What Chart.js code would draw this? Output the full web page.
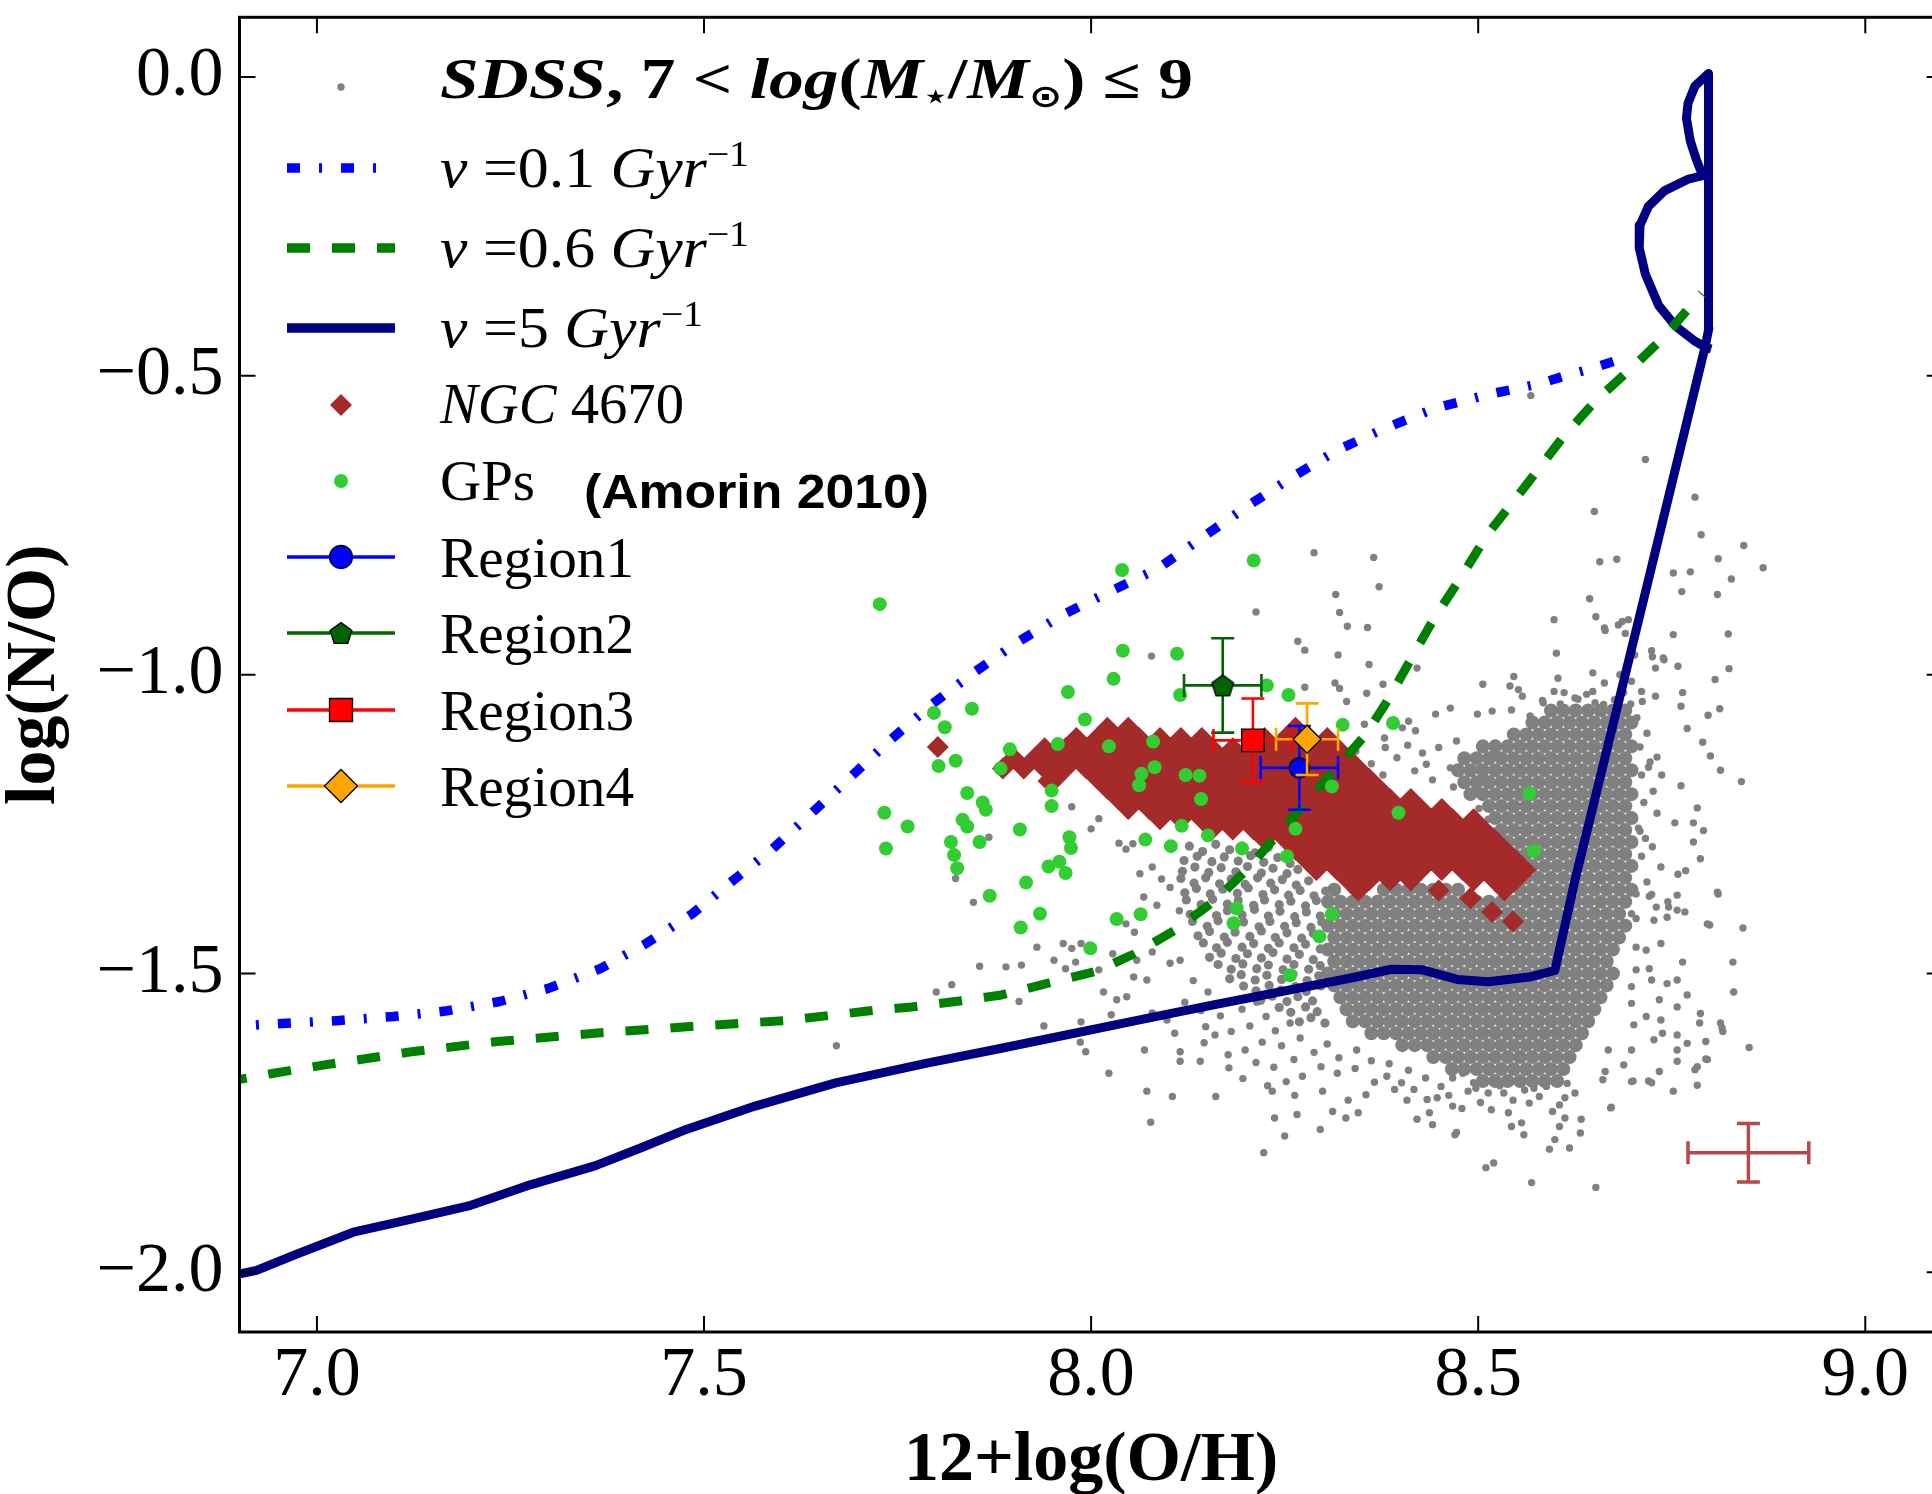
<!DOCTYPE html>
<html>
<head>
<meta charset="utf-8">
<script src="https://cdn.jsdelivr.net/npm/chart.js@4/dist/chart.umd.min.js"></script>
<style>
  html, body { margin: 0; padding: 0; background: #fff; overflow: hidden; }
  #c { display: block; }
</style>
</head>
<body>
<canvas id="c" width="1960" height="1494"></canvas>
<script>
// ---------------------------------------------------------------
// Axis ticks
const xTicks = [7.0, 7.5, 8.0, 8.5, 9.0];
const yTicks = [-2.0, -1.5, -1.0, -0.5, 0.0];

// Chemical evolution models: [12+log(O/H), log(N/O)]
const modelNu = ['0.1', '0.6', '5'];
const nu01 = [[6.880,-1.590],[6.925,-1.586],[7.025,-1.579],[7.099,-1.572],[7.166,-1.563],[7.236,-1.547],[7.299,-1.525],[7.366,-1.492],[7.425,-1.450],[7.485,-1.400],[7.535,-1.347],[7.589,-1.291],[7.642,-1.228],[7.692,-1.168],[7.741,-1.109],[7.795,-1.049],[7.848,-0.997],[7.906,-0.945],[7.963,-0.900],[8.029,-0.858],[8.087,-0.822],[8.144,-0.770],[8.202,-0.718],[8.259,-0.670],[8.317,-0.625],[8.379,-0.588],[8.445,-0.554],[8.510,-0.532],[8.580,-0.513],[8.612,-0.500],[8.643,-0.489],[8.679,-0.474]];
const nu06 = [[6.880,-1.682],[6.944,-1.667],[7.010,-1.653],[7.122,-1.631],[7.233,-1.614],[7.359,-1.600],[7.492,-1.588],[7.603,-1.579],[7.711,-1.563],[7.768,-1.556],[7.830,-1.546],[7.884,-1.536],[7.936,-1.519],[8.005,-1.497],[8.056,-1.467],[8.108,-1.428],[8.160,-1.378],[8.200,-1.328],[8.355,-1.100],[8.385,-1.039],[8.414,-0.972],[8.443,-0.906],[8.477,-0.839],[8.511,-0.767],[8.578,-0.656],[8.608,-0.605],[8.652,-0.541],[8.698,-0.487],[8.737,-0.439],[8.780,-0.375],[8.789,-0.362]];
const nu5 = [[6.880,-2.012],[6.899,-2.003],[6.922,-1.997],[6.973,-1.970],[7.047,-1.933],[7.122,-1.911],[7.196,-1.889],[7.270,-1.856],[7.359,-1.822],[7.418,-1.792],[7.477,-1.761],[7.566,-1.722],[7.670,-1.683],[7.788,-1.650],[7.881,-1.626],[8.061,-1.578],[8.145,-1.556],[8.342,-1.506],[8.388,-1.493],[8.428,-1.494],[8.473,-1.510],[8.513,-1.514],[8.566,-1.506],[8.599,-1.495],[8.625,-1.344],[8.713,-0.878],[8.793,-0.452],[8.798,-0.420],[8.798,0.004],[8.797,0.006],[8.780,-0.015],[8.771,-0.044],[8.769,-0.069],[8.774,-0.107],[8.782,-0.139],[8.790,-0.165],[8.771,-0.171],[8.741,-0.190],[8.720,-0.216],[8.709,-0.248],[8.708,-0.286],[8.716,-0.330],[8.733,-0.382],[8.755,-0.417],[8.780,-0.442],[8.793,-0.452],[8.801,-0.455]];

// Green Peas (Amorin 2010)
const gpPoints = [[7.727,-0.882],[8.040,-0.825],[8.210,-0.809],[8.041,-0.960],[8.111,-0.965],[8.029,-1.007],[7.970,-1.029],[8.115,-1.034],[8.227,-1.018],[8.255,-1.034],[7.846,-1.057],[7.797,-1.064],[7.811,-1.088],[7.992,-1.075],[8.325,-1.084],[8.390,-1.081],[7.895,-1.125],[7.957,-1.116],[8.023,-1.120],[8.080,-1.112],[7.825,-1.144],[7.803,-1.153],[7.883,-1.157],[8.082,-1.155],[8.065,-1.166],[8.122,-1.168],[8.140,-1.169],[8.062,-1.185],[7.949,-1.194],[7.840,-1.198],[7.860,-1.214],[7.864,-1.226],[7.949,-1.220],[8.142,-1.208],[8.311,-1.187],[8.397,-1.231],[8.566,-1.199],[7.733,-1.231],[7.763,-1.254],[7.834,-1.243],[7.840,-1.254],[7.908,-1.259],[7.972,-1.272],[7.819,-1.280],[7.856,-1.280],[7.974,-1.290],[8.070,-1.276],[8.103,-1.287],[8.151,-1.269],[8.264,-1.258],[8.572,-1.295],[7.735,-1.291],[7.823,-1.302],[7.827,-1.324],[7.945,-1.321],[7.959,-1.313],[7.967,-1.332],[7.916,-1.348],[8.195,-1.291],[8.253,-1.304],[7.869,-1.370],[7.934,-1.400],[8.033,-1.409],[8.064,-1.401],[7.909,-1.423],[8.188,-1.391],[8.184,-1.416],[8.311,-1.401],[8.295,-1.438],[7.999,-1.458],[8.257,-1.503],[8.117,-1.253]];

// NGC 4670 spaxels, one row per log(N/O): [log(N/O), [12+log(O/H), ...]]
const ngcRows = [
  [-1.089, [8.021,8.048,8.264]],
  [-1.106, [7.981,8.008,8.035,8.062,8.089,8.116,8.143,8.224,8.251,8.278,8.305]],
  [-1.123, [7.940,7.967,7.994,8.021,8.048,8.075,8.102,8.129,8.156,8.183,8.210,8.237,8.264,8.291,8.318]],
  [-1.140, [7.900,7.927,7.954,7.981,8.008,8.035,8.062,8.089,8.116,8.143,8.170,8.197,8.224,8.251,8.278,8.305,8.332]],
  [-1.157, [7.886,7.913,7.940,7.967,7.994,8.021,8.048,8.075,8.102,8.129,8.156,8.183,8.210,8.237,8.264,8.291,8.318,8.345]],
  [-1.174, [7.954,8.008,8.035,8.062,8.089,8.116,8.143,8.170,8.197,8.224,8.251,8.278,8.305,8.332,8.359]],
  [-1.191, [8.021,8.048,8.075,8.102,8.129,8.156,8.183,8.210,8.237,8.264,8.291,8.318,8.345,8.372]],
  [-1.208, [8.035,8.062,8.089,8.116,8.143,8.170,8.197,8.224,8.251,8.278,8.305,8.332,8.359,8.386,8.413]],
  [-1.225, [8.048,8.075,8.102,8.129,8.156,8.183,8.210,8.237,8.264,8.291,8.318,8.345,8.372,8.399,8.426,8.453]],
  [-1.242, [8.089,8.116,8.143,8.170,8.197,8.224,8.251,8.278,8.305,8.332,8.359,8.386,8.413,8.440,8.467,8.494]],
  [-1.259, [8.156,8.183,8.210,8.237,8.264,8.291,8.318,8.345,8.372,8.399,8.426,8.453,8.480,8.507]],
  [-1.276, [8.224,8.251,8.278,8.305,8.332,8.359,8.386,8.413,8.440,8.467,8.494,8.521]],
  [-1.293, [8.264,8.291,8.318,8.345,8.372,8.399,8.426,8.453,8.480,8.507,8.534]],
  [-1.310, [8.278,8.305,8.332,8.359,8.386,8.413,8.440,8.467,8.494,8.521,8.548]],
  [-1.327, [8.291,8.318,8.345,8.372,8.399,8.426,8.453,8.480,8.507,8.534,8.561]],
  [-1.344, [8.332,8.359,8.386,8.413,8.494,8.521,8.548]],
  [-1.361, [8.345,8.449,8.534]],
  [-1.374, [8.490]],
  [-1.397, [8.518]],
  [-1.413, [8.545]],
  [-1.121, [7.802]],
  [-1.178, [7.945]]
];

// SDSS star-forming galaxies, 7 < log(M*/Msun) <= 9
const sdssPoints = [
  [8.568,-0.533],[8.716,-0.640],[8.780,-0.703],[8.650,-0.727],[8.788,-0.766],[8.843,-0.784],[8.288,-0.796],[8.365,-0.804],[8.679,-0.807],[8.810,-0.806],[8.657,-0.811],[8.868,-0.821],[8.752,-0.830],[8.774,-0.828],[8.827,-0.840],[8.372,-0.853],[8.763,-0.861],[8.316,-0.866],[8.809,-0.866],[8.644,-0.873],[8.213,-0.895],[8.321,-0.896],[8.598,-0.908],[8.652,-0.903],[8.686,-0.911],[8.331,-0.919],[8.357,-0.921],[8.663,-0.922],[8.690,-0.931],[8.752,-0.933],[8.823,-0.932],[8.267,-0.944],[8.276,-0.959],[8.601,-0.964],[8.078,-0.969],[8.319,-0.967],[8.702,-0.967],[8.725,-0.970],[8.740,-0.975],[8.359,-0.983],[8.758,-0.986],[8.421,-0.989],[8.729,-0.989],[8.824,-0.990],[8.648,-0.997],[8.683,-1.000],[8.546,-1.003],[8.603,-1.006],[8.806,-1.008],[8.698,-1.011],[8.315,-1.014],[8.663,-1.014],[8.506,-1.016],[8.377,-1.016],[8.541,-1.019],[8.276,-1.021],[8.321,-1.023],[8.552,-1.025],[8.598,-1.028],[8.648,-1.028],[8.711,-1.028],[8.764,-1.030],[8.356,-1.031],[8.729,-1.036],[8.557,-1.036],[8.625,-1.039],[8.584,-1.047],[8.330,-1.045],[8.662,-1.050],[8.762,-1.053],[8.812,-1.057],[8.464,-1.056],[8.543,-1.059],[8.518,-1.061],[8.620,-1.061],[8.445,-1.066],[8.499,-1.066],[8.567,-1.069],[8.797,-1.068],[8.353,-1.083],[8.410,-1.078],[8.770,-1.090],[8.402,-1.089],[8.419,-1.094],[8.379,-1.106],[8.472,-1.111],[8.790,-1.113],[8.449,-1.122],[8.380,-1.122],[8.342,-1.128],[8.495,-1.139],[8.800,-1.136],[8.433,-1.150],[8.464,-1.156],[8.500,-1.158],[8.813,-1.160],[8.840,-1.179],[8.762,-1.186],[8.783,-1.223],[8.754,-1.248],[8.778,-1.248],[8.791,-1.261],[8.778,-1.280],[8.787,-1.308],[8.768,-1.328],[8.809,-1.364],[8.758,-1.334],[8.767,-1.397],[8.745,-1.380],[8.799,-1.419],[8.842,-1.424],[8.829,-1.481],[8.830,-1.531],[8.787,-1.567],[8.815,-1.591],[8.850,-1.624],[8.794,-1.614],[8.794,-1.643],[8.780,-1.661],[8.783,-1.687],[8.752,-1.697],[8.720,-1.680],[8.700,-1.680],[8.672,-1.724],
  [8.712,-1.045],[8.705,-1.072],[8.718,-1.098],[8.709,-1.121],[8.722,-1.146],[8.731,-1.138],[8.711,-1.168],[8.737,-1.168],[8.726,-1.195],[8.714,-1.214],[8.731,-1.232],[8.709,-1.262],[8.716,-1.274],[8.725,-1.288],[8.711,-1.304],[8.736,-1.322],[8.718,-1.347],[8.724,-1.368],[8.746,-1.389],[8.704,-1.408],[8.727,-1.411],[8.736,-1.450],[8.704,-1.456],[8.717,-1.461],[8.704,-1.494],[8.721,-1.492],[8.698,-1.522],[8.724,-1.511],[8.744,-1.517],[8.698,-1.550],[8.734,-1.544],[8.757,-1.556],[8.770,-1.536],[8.717,-1.572],[8.736,-1.578],[8.701,-1.586],[8.738,-1.600],[8.757,-1.603],[8.770,-1.617],[8.727,-1.611],[8.698,-1.628],[8.668,-1.628],[8.688,-1.653],[8.757,-1.628],[8.757,-1.647],[8.734,-1.664],[8.783,-1.656],[8.796,-1.644],[8.661,-1.678],[8.664,-1.664],[8.698,-1.681],[8.724,-1.683],[8.813,-1.583],[8.816,-1.597],[8.786,-1.583],[8.757,-1.511],[8.764,-1.481],[8.796,-1.417],[8.810,-1.367],[8.757,-1.369],[8.757,-1.394],[8.730,-1.389],[8.744,-1.406],[8.704,-1.367],[8.721,-1.371],[8.698,-1.400],[8.707,-1.257],[8.720,-1.155],[8.681,-0.917],[8.694,-0.908],[8.664,-0.926],[8.739,-0.972],[8.724,-0.960],
  [8.395,-1.139],[8.418,-1.161],[8.441,-1.176],[8.468,-1.188],[8.487,-1.201],[8.409,-1.118],[8.428,-1.131],[8.362,-1.149],[8.377,-1.168],
  [8.583,-1.043],[8.606,-1.049],[8.629,-1.041],[8.651,-1.047],[8.676,-1.042],[8.697,-1.049],[8.611,-1.030],[8.640,-1.033],[8.688,-1.030],
  [8.522,-1.128],[8.512,-1.145],[8.504,-1.171],[8.497,-1.189],[8.501,-1.224],[8.513,-1.242],[8.520,-1.262],[8.531,-1.281],
  [8.452,-1.689],[8.487,-1.697],[8.528,-1.688],[8.560,-1.695],[8.588,-1.689],[8.615,-1.684],[8.545,-1.712],[8.503,-1.716],[8.462,-1.704],
  [7.975,-1.221],[8.000,-1.258],[8.010,-1.241],[8.036,-1.282],[8.045,-1.292],[8.054,-1.283],[8.063,-1.333],[8.079,-1.322],[8.091,-1.342],[8.102,-1.356],[8.068,-1.372],[8.085,-1.386],[8.114,-1.395],[8.045,-1.417],[8.056,-1.431],[8.028,-1.467],[8.010,-1.494],[7.964,-1.450],[7.975,-1.458],[7.952,-1.478],[7.930,-1.456],[7.910,-1.486],[7.890,-1.489],[7.820,-1.519],[7.800,-1.531],[7.907,-1.547],[8.016,-1.531],[8.033,-1.544],[7.856,-1.488],[7.967,-1.492],[7.996,-1.499],[7.671,-1.621],[7.939,-1.588],[7.986,-1.615],[8.077,-1.749],[8.223,-1.800],[7.987,-1.450],[7.980,-1.481],[8.046,-1.539],[8.026,-1.569],[7.987,-1.581],[7.993,-1.631],[8.023,-1.667],[8.059,-1.478],[8.079,-1.464],[8.102,-1.483],[8.115,-1.478],[8.055,-1.506],[8.072,-1.511],[8.079,-1.566],[8.098,-1.578],[8.108,-1.600],[8.069,-1.628],[8.115,-1.631],[8.115,-1.647],[8.141,-1.647],[8.072,-1.697],[8.105,-1.706],[8.161,-1.706],[8.148,-1.589],[8.146,-1.616],[8.178,-1.658],[7.868,-1.272],[7.825,-1.341],[7.848,-1.381],
  [8.132,-1.512],[8.151,-1.531],[8.121,-1.548],[8.142,-1.562],[8.167,-1.571],[8.195,-1.560],[8.214,-1.548],[8.226,-1.572],[8.205,-1.588],[8.181,-1.597],[8.160,-1.603],[8.238,-1.596],[8.257,-1.583],[8.270,-1.608],[8.246,-1.621],[8.221,-1.615],[8.199,-1.628],[8.177,-1.636],[8.213,-1.649],[8.236,-1.657],[8.262,-1.644],[8.288,-1.632],[8.305,-1.618],[8.320,-1.641],[8.343,-1.628],[8.297,-1.656],[8.273,-1.672],[8.252,-1.681],[8.228,-1.688],[8.196,-1.676],[8.318,-1.667],[8.341,-1.659],[8.362,-1.646],[8.385,-1.651],[8.410,-1.662],[8.432,-1.675],[8.366,-1.682],[8.392,-1.694],[8.355,-1.703],[8.382,-1.672],[8.401,-1.683],[8.417,-1.694],[8.408,-1.712],[8.421,-1.744],[8.437,-1.733],[8.441,-1.753],[8.434,-1.711],[8.447,-1.708],[8.467,-1.675],[8.480,-1.667],[8.494,-1.683],[8.467,-1.722],[8.479,-1.726],[8.470,-1.770],[8.497,-1.692],[8.513,-1.700],[8.533,-1.700],[8.517,-1.728],[8.539,-1.733],[8.543,-1.756],[8.556,-1.750],[8.559,-1.770],[8.510,-1.825],[8.520,-1.817],[8.569,-1.850],[8.652,-1.858],[8.592,-1.794],[8.618,-1.792],[8.599,-1.778],[8.632,-1.767],[8.605,-1.756],[8.612,-1.742],[8.596,-1.731],[8.605,-1.720],[8.612,-1.708],[8.625,-1.700],[8.579,-1.706],[8.566,-1.717],[8.572,-1.692],[8.671,-1.725],[8.633,-1.744],[8.234,-1.697],[8.263,-1.704],[8.237,-1.742],[8.266,-1.736],[8.250,-1.772],[8.296,-1.761],[8.299,-1.697],[8.332,-1.712],[8.312,-1.731],[8.329,-1.742],[8.345,-1.733],[8.472,-1.766]
];

// SDSS galaxies in the busy strip between the NGC 4670 band and the core
const sdssBusy = [
  [8.127,-1.287],[8.144,-1.296],[8.161,-1.284],[8.179,-1.293],[8.195,-1.287],[8.212,-1.298],[8.229,-1.289],
  [8.120,-1.311],[8.137,-1.304],[8.156,-1.313],[8.172,-1.305],[8.190,-1.312],[8.206,-1.303],[8.223,-1.314],[8.241,-1.306],[8.257,-1.316],
  [8.118,-1.329],[8.134,-1.322],[8.152,-1.331],[8.168,-1.323],[8.187,-1.330],[8.202,-1.321],[8.220,-1.332],[8.235,-1.324],[8.253,-1.333],[8.267,-1.326],
  [8.116,-1.341],[8.133,-1.349],[8.148,-1.340],[8.166,-1.350],[8.181,-1.342],[8.199,-1.351],[8.215,-1.340],[8.232,-1.349],[8.247,-1.343],[8.265,-1.352],[8.281,-1.345],
  [8.121,-1.365],[8.136,-1.358],[8.154,-1.367],[8.170,-1.359],[8.189,-1.366],[8.203,-1.357],[8.222,-1.368],[8.237,-1.360],[8.255,-1.369],[8.270,-1.361],[8.288,-1.370],[8.303,-1.362],
  [8.123,-1.377],[8.142,-1.385],[8.157,-1.376],[8.176,-1.384],[8.190,-1.378],[8.210,-1.386],[8.224,-1.377],[8.243,-1.385],[8.258,-1.379],[8.277,-1.387],[8.291,-1.378],
  [8.128,-1.401],[8.143,-1.394],[8.162,-1.403],[8.176,-1.395],[8.195,-1.402],[8.211,-1.393],[8.229,-1.404],[8.244,-1.396],[8.263,-1.405],[8.278,-1.397],[8.296,-1.404],
  [8.131,-1.413],[8.150,-1.421],[8.164,-1.412],[8.183,-1.420],[8.197,-1.414],[8.217,-1.422],[8.231,-1.413],[8.250,-1.421],[8.265,-1.415],[8.284,-1.423],[8.298,-1.414],
  [8.138,-1.437],[8.153,-1.430],[8.172,-1.439],[8.186,-1.431],[8.205,-1.438],[8.220,-1.429],[8.238,-1.440],[8.253,-1.432],[8.272,-1.441],[8.287,-1.433],
  [8.145,-1.449],[8.162,-1.457],[8.176,-1.448],[8.195,-1.456],[8.210,-1.450],[8.229,-1.458],[8.243,-1.449],[8.262,-1.457],[8.277,-1.451],[8.296,-1.459],
  [8.153,-1.473],[8.168,-1.466],[8.187,-1.475],[8.202,-1.467],[8.220,-1.474],[8.235,-1.465],[8.253,-1.476],[8.269,-1.468],[8.287,-1.477],
  [8.164,-1.485],[8.181,-1.493],[8.196,-1.484],[8.214,-1.492],[8.229,-1.486],[8.248,-1.494],[8.262,-1.485],[8.281,-1.493],[8.296,-1.487],
  [8.179,-1.509],[8.194,-1.502],[8.212,-1.511],[8.227,-1.503],[8.246,-1.510],[8.261,-1.501],[8.279,-1.512],[8.294,-1.504],
  [8.197,-1.521],[8.213,-1.529],[8.230,-1.520],[8.245,-1.528],[8.264,-1.522],[8.278,-1.530],[8.297,-1.521],
  [8.219,-1.545],[8.234,-1.538],[8.253,-1.547],[8.267,-1.539],[8.286,-1.546],
  [8.243,-1.557],[8.258,-1.565],[8.277,-1.556],[8.292,-1.564],
  [8.269,-1.581],[8.284,-1.574],[8.302,-1.583]
];

// Crowded core of the SDSS distribution, one row per log(N/O)
const sdssDenseRows = [
  [-1.06, [8.594,8.610,8.626,8.642,8.658,8.674,8.690]],
  [-1.08, [8.570,8.586,8.602,8.618,8.634,8.650,8.666,8.682,8.698]],
  [-1.10, [8.546,8.562,8.578,8.594,8.610,8.626,8.642,8.658,8.674,8.690]],
  [-1.12, [8.506,8.522,8.538,8.554,8.570,8.586,8.602,8.618,8.634,8.650,8.666,8.682,8.698]],
  [-1.14, [8.482,8.498,8.514,8.530,8.546,8.562,8.578,8.594,8.610,8.626,8.642,8.658,8.674,8.690]],
  [-1.16, [8.474,8.490,8.506,8.522,8.538,8.554,8.570,8.586,8.602,8.618,8.634,8.650,8.666,8.682,8.698]],
  [-1.18, [8.482,8.498,8.514,8.530,8.546,8.562,8.578,8.594,8.610,8.626,8.642,8.658,8.674,8.690]],
  [-1.20, [8.490,8.506,8.522,8.538,8.554,8.570,8.586,8.602,8.618,8.634,8.650,8.666,8.682,8.698]],
  [-1.22, [8.514,8.530,8.546,8.562,8.578,8.594,8.610,8.626,8.642,8.658,8.674,8.690]],
  [-1.24, [8.522,8.538,8.554,8.570,8.586,8.602,8.618,8.634,8.650,8.666,8.682,8.698]],
  [-1.26, [8.530,8.546,8.562,8.578,8.594,8.610,8.626,8.642,8.658,8.674,8.690]],
  [-1.28, [8.538,8.554,8.570,8.586,8.602,8.618,8.634,8.650,8.666,8.682,8.698]],
  [-1.30, [8.546,8.562,8.578,8.594,8.610,8.626,8.642,8.658,8.674,8.690]],
  [-1.32, [8.554,8.570,8.586,8.602,8.618,8.634,8.650,8.666,8.682,8.698]],
  [-1.34, [8.562,8.578,8.594,8.610,8.626,8.642,8.658,8.674,8.690]],
  [-1.36, [8.314,8.378,8.394,8.410,8.426,8.442,8.458,8.474,8.554,8.570,8.586,8.602,8.618,8.634,8.650,8.666,8.682,8.698]],
  [-1.38, [8.306,8.322,8.338,8.354,8.370,8.386,8.402,8.418,8.434,8.450,8.466,8.482,8.498,8.514,8.530,8.546,8.562,8.578,8.594,8.610,8.626,8.642,8.658,8.674,8.690]],
  [-1.40, [8.314,8.330,8.346,8.362,8.378,8.394,8.410,8.426,8.442,8.458,8.474,8.490,8.506,8.522,8.538,8.554,8.570,8.586,8.602,8.618,8.634,8.650,8.666,8.682]],
  [-1.42, [8.306,8.322,8.338,8.354,8.370,8.386,8.402,8.418,8.434,8.450,8.466,8.482,8.498,8.514,8.530,8.546,8.562,8.578,8.594,8.610,8.626,8.642,8.658,8.674,8.690]],
  [-1.44, [8.314,8.330,8.346,8.362,8.378,8.394,8.410,8.426,8.442,8.458,8.474,8.490,8.506,8.522,8.538,8.554,8.570,8.586,8.602,8.618,8.634,8.650,8.666,8.682]],
  [-1.46, [8.306,8.322,8.338,8.354,8.370,8.386,8.402,8.418,8.434,8.450,8.466,8.482,8.498,8.514,8.530,8.546,8.562,8.578,8.594,8.610,8.626,8.642,8.658,8.674]],
  [-1.48, [8.314,8.330,8.346,8.362,8.378,8.394,8.410,8.426,8.442,8.458,8.474,8.490,8.506,8.522,8.538,8.554,8.570,8.586,8.602,8.618,8.634,8.650,8.666]],
  [-1.50, [8.306,8.322,8.338,8.354,8.370,8.386,8.402,8.418,8.434,8.450,8.466,8.482,8.498,8.514,8.530,8.546,8.562,8.578,8.594,8.610,8.626,8.642,8.658,8.674]],
  [-1.52, [8.314,8.330,8.346,8.362,8.378,8.394,8.410,8.426,8.442,8.458,8.474,8.490,8.506,8.522,8.538,8.554,8.570,8.586,8.602,8.618,8.634,8.650,8.666]],
  [-1.54, [8.322,8.338,8.354,8.370,8.386,8.402,8.418,8.434,8.450,8.466,8.482,8.498,8.514,8.530,8.546,8.562,8.578,8.594,8.610,8.626,8.642,8.658]],
  [-1.56, [8.330,8.346,8.362,8.378,8.394,8.410,8.426,8.442,8.458,8.474,8.490,8.506,8.522,8.538,8.554,8.570,8.586,8.602,8.618,8.634,8.650]],
  [-1.58, [8.338,8.354,8.370,8.386,8.402,8.418,8.434,8.450,8.466,8.482,8.498,8.514,8.530,8.546,8.562,8.578,8.594,8.610,8.626,8.642]],
  [-1.60, [8.362,8.378,8.394,8.410,8.426,8.442,8.458,8.474,8.490,8.506,8.522,8.538,8.554,8.570,8.586,8.602,8.618,8.634]],
  [-1.62, [8.402,8.418,8.434,8.450,8.466,8.482,8.498,8.514,8.530,8.546,8.562,8.578,8.594,8.610,8.626]],
  [-1.64, [8.442,8.458,8.474,8.490,8.506,8.522,8.538,8.554,8.570,8.586,8.602,8.618]],
  [-1.66, [8.466,8.482,8.498,8.514,8.530,8.546,8.562,8.578,8.594,8.610]],
  [-1.68, [8.506,8.522,8.538,8.554,8.570,8.586,8.602]]
];

// NGC 4670 regions with their uncertainties
const regionNames = ['Region1', 'Region2', 'Region3', 'Region4'];
const regionOH    = [8.269, 8.170, 8.209, 8.279];
const regionNO    = [-1.156, -1.018, -1.110, -1.108];
const regionOHErr = [0.050, 0.050, 0.051, 0.040];
const regionNOErr = [0.070, 0.079, 0.070, 0.060];

// Typical uncertainty of the NGC 4670 spaxels
const typErrOH = [8.849], typErrNO = [-1.800];
const typErrOHErr = [0.078], typErrNOErr = [0.049];

// ---------------------------------------------------------------
const SERIF = "'Liberation Serif', 'DejaVu Serif', serif";
const SANS = "'Liberation Sans', Arial, sans-serif";

const fromPairs = arr => arr.map(([x, y]) => ({x, y}));
const fromRows = arr => arr.flatMap(([y, xs]) => xs.map(x => ({x, y})));
const fmtTick = v => (v < 0 ? '\u2212' : '') + Math.abs(v).toFixed(1);

const GRAY = '#808080', BROWN = '#a52a2a', LIME = '#32cd32';
const regionColors = ['#0000ff', '#006400', '#ff0000', '#ffa500'];
const regionFill = ['#0000ff', '#006400', '#ff0000', '#ffa500'];

function pentagon(size, fill) {
  const c = document.createElement('canvas');
  c.width = c.height = size;
  const g = c.getContext('2d');
  const r = size / 2 - 1.5, cx = size / 2, cy = size / 2 + r * 0.1;
  g.beginPath();
  for (let k = 0; k < 5; k++) {
    const a = -Math.PI / 2 + k * 2 * Math.PI / 5;
    g.lineTo(cx + r * Math.cos(a), cy + r * Math.sin(a));
  }
  g.closePath();
  g.fillStyle = fill; g.fill();
  g.lineWidth = 1.3; g.strokeStyle = '#000'; g.stroke();
  return c;
}
const pentaImg = pentagon(26, regionFill[1]);

const regionStyles = [
  {pointStyle: 'circle', pointRadius: 10},
  {pointStyle: pentaImg, pointRadius: 12},
  {pointStyle: 'rect', pointRadius: 16},
  {pointStyle: 'rectRot', pointRadius: 14}
];

const datasets = [
  {label: 'sdss-core', data: fromRows(sdssDenseRows), pointRadius: 7, pointBackgroundColor: GRAY, pointBorderWidth: 0, order: 31},
  {label: 'sdss-busy', data: fromPairs(sdssBusy), pointRadius: 4.6, pointBackgroundColor: GRAY, pointBorderWidth: 0, order: 30},
  {label: 'SDSS', data: fromPairs(sdssPoints), pointRadius: 3.7, pointBackgroundColor: GRAY, pointBorderWidth: 0, order: 29},
  {label: 'NGC 4670', data: fromRows(ngcRows), pointStyle: 'rectRot', pointRadius: 11, pointBackgroundColor: BROWN, pointBorderWidth: 0, order: 25},
  {label: 'nu5', data: fromPairs(nu5), showLine: true, pointRadius: 0, borderColor: '#000080', borderWidth: 9, borderJoinStyle: 'round', borderCapStyle: 'butt', clip: 0, order: 22},
  {label: 'nu06', data: fromPairs(nu06), showLine: true, pointRadius: 0, borderColor: '#008000', borderWidth: 9, borderDash: [23, 22], borderCapStyle: 'butt', borderJoinStyle: 'round', clip: 0, order: 21},
  {label: 'nu01', data: fromPairs(nu01), showLine: true, pointRadius: 0, borderColor: '#0000ff', borderWidth: 9.5, borderDash: [13, 19, 3, 19], borderCapStyle: 'butt', borderJoinStyle: 'round', clip: 0, order: 20},
  {label: 'GPs', data: fromPairs(gpPoints), pointRadius: 7, pointBackgroundColor: LIME, pointBorderWidth: 0, order: 15},
  {label: 'typical error', data: typErrOH.map((x, i) => ({x, y: typErrNO[i]})), pointRadius: 0,
   errX: typErrOHErr, errY: typErrNOErr, errColor: 'rgba(165,42,42,0.85)', errWidth: 3.5, errCap: 11.5, order: 12}
];
regionNames.forEach((name, i) => {
  datasets.push(Object.assign({
    label: name,
    data: [{x: regionOH[i], y: regionNO[i]}],
    pointBackgroundColor: regionFill[i], pointBorderColor: '#000', pointBorderWidth: 1.3,
    errX: [regionOHErr[i]], errY: [regionNOErr[i]], errColor: regionColors[i], errWidth: 2.6, errCap: 11.5,
    order: 4 - i
  }, regionStyles[i]));
});

// Error bars are stroked right before their markers
const errorBars = {
  id: 'errorBars',
  beforeDatasetDraw(chart, args) {
    const ds = chart.data.datasets[args.index];
    if (!ds.errX) return;
    const {ctx, chartArea: a} = chart;
    const xs = chart.scales.x, ys = chart.scales.y;
    ctx.save();
    ctx.beginPath(); ctx.rect(a.left, a.top, a.right - a.left, a.bottom - a.top); ctx.clip();
    ctx.strokeStyle = ds.errColor; ctx.lineWidth = ds.errWidth; ctx.lineCap = 'butt';
    ds.data.forEach((p, i) => {
      const px = xs.getPixelForValue(p.x), py = ys.getPixelForValue(p.y);
      const xl = xs.getPixelForValue(p.x - ds.errX[i]), xr = xs.getPixelForValue(p.x + ds.errX[i]);
      const yb = ys.getPixelForValue(p.y - ds.errY[i]), yt = ys.getPixelForValue(p.y + ds.errY[i]);
      const c = ds.errCap;
      ctx.beginPath();
      ctx.moveTo(xl, py); ctx.lineTo(xr, py);
      ctx.moveTo(px, yb); ctx.lineTo(px, yt);
      ctx.moveTo(xl, py - c); ctx.lineTo(xl, py + c);
      ctx.moveTo(xr, py - c); ctx.lineTo(xr, py + c);
      ctx.moveTo(px - c, yb); ctx.lineTo(px + c, yb);
      ctx.moveTo(px - c, yt); ctx.lineTo(px + c, yt);
      ctx.stroke();
    });
    ctx.restore();
  }
};

function runsWidth(ctx, runs) {
  let w = 0;
  for (const r of runs) { ctx.font = r.f; w += ctx.measureText(r.t).width; }
  return w;
}
function drawRuns(ctx, x, y, runs, target) {
  const w = runsWidth(ctx, runs);
  let s = target ? target / w : 1;
  if (s < 0.8 || s > 1.25) s = 1;
  ctx.save();
  ctx.translate(x, y); ctx.scale(s, 1);
  ctx.textAlign = 'left'; ctx.textBaseline = 'alphabetic'; ctx.fillStyle = '#000';
  let cx = 0;
  for (const r of runs) { ctx.font = r.f; ctx.fillText(r.t, cx, r.dy || 0); cx += ctx.measureText(r.t).width; }
  ctx.restore();
}
function marker(ctx, style, r, fill, x, y, stroke) {
  ctx.save();
  ctx.fillStyle = fill;
  ctx.beginPath();
  if (style === 'circle') ctx.arc(x, y, r, 0, 2 * Math.PI);
  else if (style === 'diamond') { ctx.moveTo(x - r, y); ctx.lineTo(x, y - r); ctx.lineTo(x + r, y); ctx.lineTo(x, y + r); ctx.closePath(); }
  else if (style === 'square') ctx.rect(x - r, y - r, 2 * r, 2 * r);
  ctx.fill();
  if (stroke) { ctx.lineWidth = 1.3; ctx.strokeStyle = '#000'; ctx.stroke(); }
  ctx.restore();
}
function hline(ctx, x0, x1, y, color, width, dash) {
  ctx.save();
  ctx.strokeStyle = color; ctx.lineWidth = width; ctx.lineCap = 'butt';
  ctx.setLineDash(dash || []);
  ctx.beginPath(); ctx.moveTo(x0, y); ctx.lineTo(x1, y); ctx.stroke();
  ctx.restore();
}

// Frame, inward ticks, axis titles and legend
const frame = {
  id: 'frame',
  afterDraw(chart) {
    const ctx = chart.ctx, a = chart.chartArea;
    const xs = chart.scales.x, ys = chart.scales.y;
    ctx.save();
    ctx.strokeStyle = '#000';
    ctx.lineWidth = 2;
    ctx.beginPath();
    xTicks.forEach(v => {
      const p = xs.getPixelForValue(v);
      ctx.moveTo(p, a.bottom); ctx.lineTo(p, a.bottom - 16);
      ctx.moveTo(p, a.top); ctx.lineTo(p, a.top + 16);
    });
    yTicks.forEach(v => {
      const p = ys.getPixelForValue(v);
      ctx.moveTo(a.left, p); ctx.lineTo(a.left + 16, p);
      ctx.moveTo(a.right, p); ctx.lineTo(a.right - 16, p);
    });
    ctx.stroke();
    ctx.lineWidth = 3;
    ctx.strokeRect(a.left, a.top, a.right - a.left, a.bottom - a.top);

    // axis titles
    ctx.fillStyle = '#000';
    ctx.font = `bold 70px ${SERIF}`;
    ctx.textAlign = 'center'; ctx.textBaseline = 'alphabetic';
    ctx.fillText('12+log(O/H)', (a.left + a.right) / 2, 1480);
    ctx.save();
    ctx.translate(54, (a.top + a.bottom) / 2);
    ctx.rotate(-Math.PI / 2);
    ctx.fillText('log(N/O)', 0, 0);
    ctx.restore();

    // legend
    const mx = 341, lx0 = 287, lx1 = 395, tx = 440;
    const R = `56px ${SERIF}`, I = `italic 56px ${SERIF}`, B = `bold 56px ${SERIF}`, BI = `italic bold 56px ${SERIF}`;
    const SUP = `36px ${SERIF}`, SUB = `bold 32px 'DejaVu Sans', sans-serif`;

    marker(ctx, 'circle', 3.7, GRAY, mx, 87);
    drawRuns(ctx, tx, 98, [
      {t: 'SDSS', f: BI}, {t: ', ', f: B}, {t: '7', f: B}, {t: ' < ', f: B}, {t: 'log', f: BI}, {t: '(', f: B},
      {t: 'M', f: BI}, {t: '\u22C6', f: SUB, dy: 9}, {t: '/', f: B}, {t: 'M', f: BI}, {t: '\u2299', f: SUB, dy: 9},
      {t: ')', f: B}, {t: ' \u2264 ', f: B}, {t: '9', f: B}
    ], 753);

    const nuRow = (val, y, color, dash, target) => {
      hline(ctx, lx0, lx1, y, color, 9.5, dash);
      drawRuns(ctx, tx, y + 19, [
        {t: '\u03BD', f: I}, {t: ' =', f: R}, {t: val, f: R}, {t: ' ', f: R}, {t: 'Gyr', f: I}, {t: '\u22121', f: SUP, dy: -21}
      ], target);
    };
    nuRow(modelNu[0], 168, '#0000ff', [13, 19, 3, 19], 309);
    nuRow(modelNu[1], 248, '#008000', [23, 22], 309);
    nuRow(modelNu[2], 328, '#000080', null, 263);

    marker(ctx, 'diamond', 11, BROWN, mx, 405);
    drawRuns(ctx, tx, 423, [{t: 'NGC', f: I}, {t: ' 4670', f: R}], 244);

    marker(ctx, 'circle', 7, LIME, mx, 481);
    drawRuns(ctx, tx, 500, [{t: 'GPs', f: R}], 95);
    drawRuns(ctx, 584, 508, [{t: '(Amorin 2010)', f: `bold 48px ${SANS}`}], 345);

    const rowY = [557, 633, 710, 786];
    regionNames.forEach((name, i) => {
      const y = rowY[i];
      hline(ctx, lx0, lx1, y, regionColors[i], 3.5);
      if (i === 0) marker(ctx, 'circle', 11.5, regionFill[0], mx, y, true);
      if (i === 1) ctx.drawImage(pentaImg, mx - 13, y - 13);
      if (i === 2) marker(ctx, 'square', 11.5, regionFill[2], mx, y, true);
      if (i === 3) marker(ctx, 'diamond', 16.5, regionFill[3], mx, y, true);
      drawRuns(ctx, tx, y + 20, [{t: name, f: R}], 194);
    });
    ctx.restore();
  }
};

// Scale boxes keep a fixed size; tick labels may not push the plot area
const noPad = s => { s.paddingTop = 0; s.paddingBottom = 0; s.paddingLeft = 0; s.paddingRight = 0; };

new Chart(document.getElementById('c'), {
  type: 'scatter',
  data: {datasets},
  options: {
    responsive: false,
    animation: false,
    events: [],
    layout: {padding: {top: 13.5, right: 15.5, left: 0, bottom: 0}},
    plugins: {legend: {display: false}, tooltip: {enabled: false}},
    scales: {
      x: {
        type: 'linear', position: 'bottom', min: 6.9, max: 9.1,
        grid: {display: false, drawTicks: false}, border: {display: false},
        ticks: {font: {family: SERIF, size: 70}, color: '#000', padding: 2.5, autoSkip: false, maxRotation: 0, callback: fmtTick},
        afterBuildTicks: s => { s.ticks = xTicks.map(v => ({value: v})); },
        afterFit: s => { s.height = 162; noPad(s); }
      },
      y: {
        type: 'linear', position: 'left', min: -2.1, max: 0.1,
        grid: {display: false, drawTicks: false}, border: {display: false},
        ticks: {font: {family: SERIF, size: 70}, color: '#000', padding: 16, autoSkip: false, callback: fmtTick},
        afterBuildTicks: s => { s.ticks = yTicks.map(v => ({value: v})); },
        afterFit: s => { s.width = 239.5; noPad(s); }
      }
    }
  },
  plugins: [errorBars, frame]
});
</script>
</body>
</html>
